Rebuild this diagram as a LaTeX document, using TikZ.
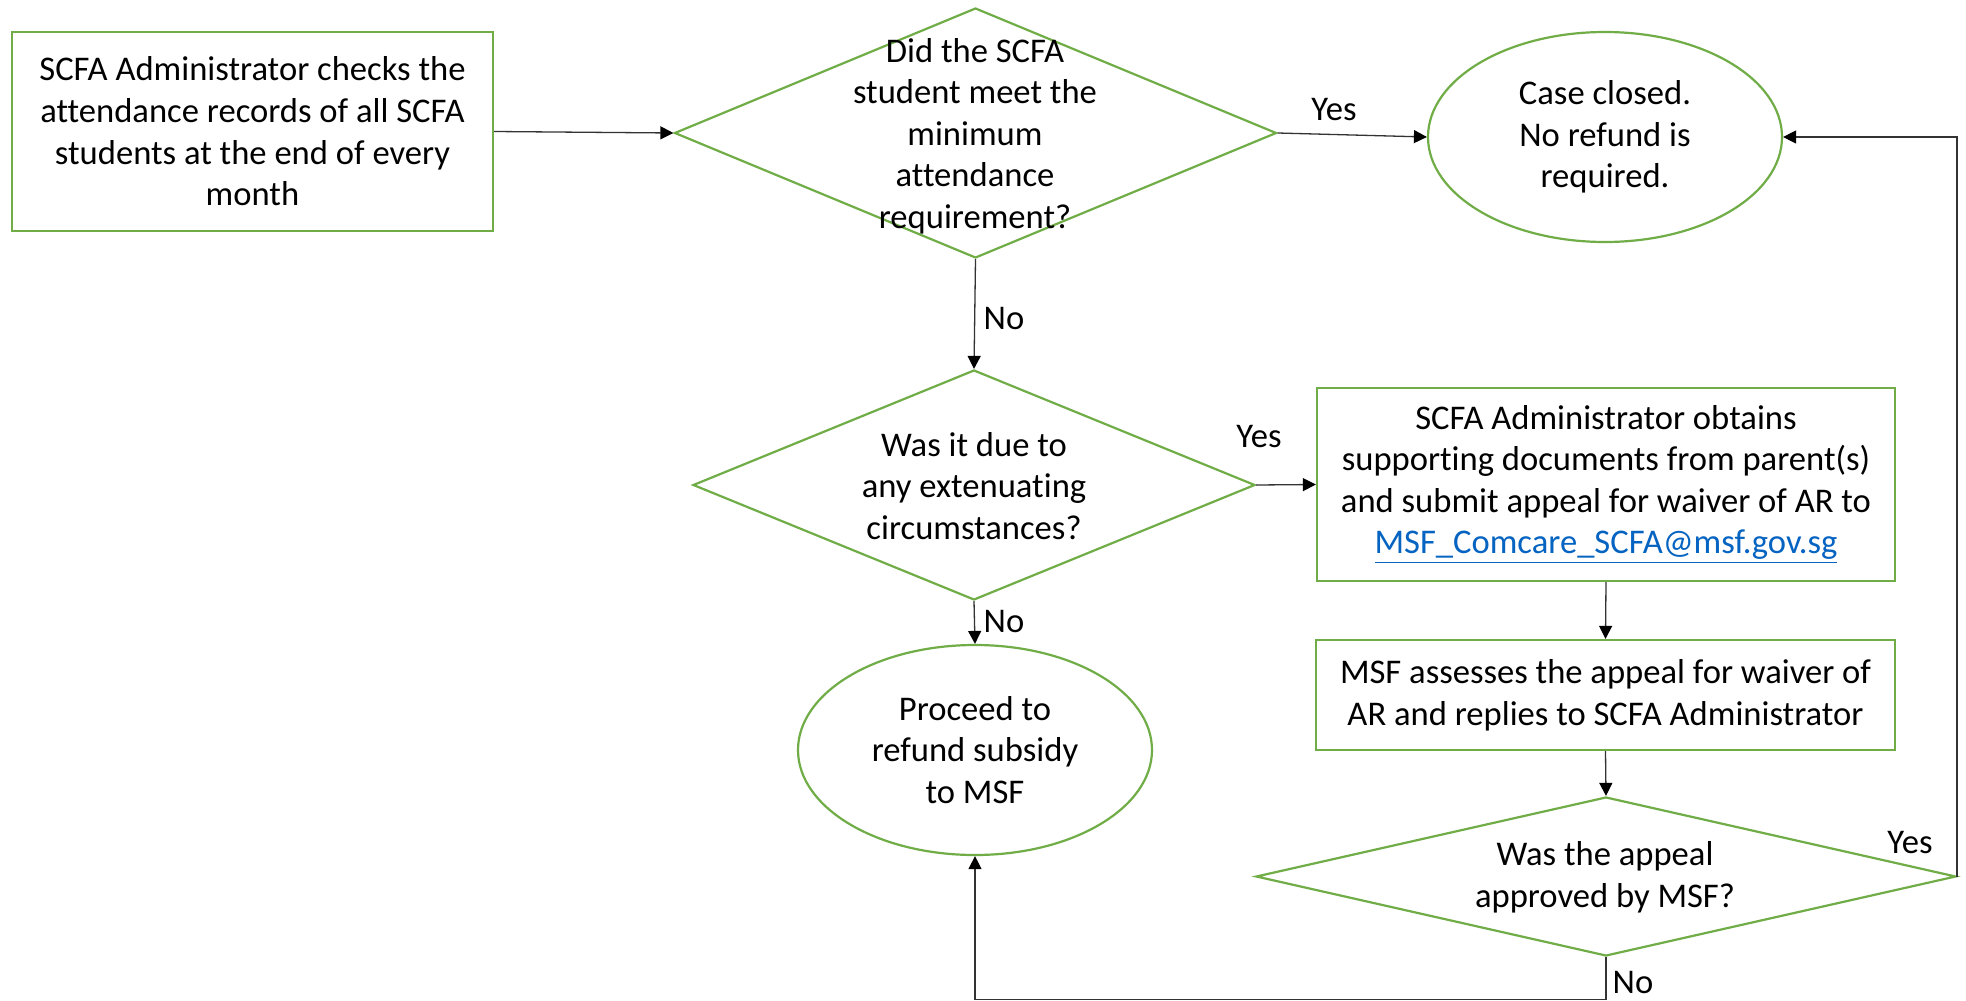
\documentclass[tikz,border=0pt]{standalone}
\usepackage{fontspec}
\setmainfont{Carlito}[Ligatures=NoCommon]
\usetikzlibrary{shapes.geometric,arrows.meta}
\definecolor{grn}{HTML}{70AD47}
\definecolor{lnk}{HTML}{0563C1}
\definecolor{conn}{HTML}{333333}
\newcommand{\fsz}{\fontsize{17.3}{20.8}\selectfont}
\begin{document}
\begin{tikzpicture}[x=0.5pt,y=-0.5pt,
  shp/.style={draw=grn,line width=1.1pt,inner sep=0pt,align=center,font=\fsz},
  procbox/.style={shp,rectangle},
  termel/.style={shp,ellipse},
  decdia/.style={shp,diamond},
  dtext/.style={align=center,font=\fsz,inner sep=0pt},
  lbl/.style={font=\fsz,anchor=base,inner sep=0pt},
  arr/.style={draw=conn,line width=0.65pt,-{Triangle[length=6.5pt,width=6.5pt,color=black]}}
]
\fill[white] (0,0) rectangle (1966,1001);
\useasboundingbox (0,0) rectangle (1966,1001);

\node[procbox,minimum width=240.5pt,minimum height=99.5pt] (b1) at (252.5,131.5)
  {SCFA Administrator checks the\\attendance records of all SCFA\\students at the end of every\\month};

\node[decdia,minimum width=301pt,minimum height=125pt] (d1) at (975.5,133) {};
\node[dtext] (d1t) at (975,136) {Did the SCFA\\student meet the\\minimum\\attendance\\requirement?};

\node[termel,minimum width=177pt,minimum height=105pt] (e1) at (1605,137)
  {Case closed.\\No refund is\\required.};

\node[decdia,minimum width=281pt,minimum height=115pt] (d2) at (974,485) {};
\node[dtext] (d2t) at (974,486) {Was it due to\\any extenuating\\circumstances?};

\node[procbox,minimum width=289pt,minimum height=96.5pt] (b2) at (1606,484.5)
  {SCFA Administrator obtains\\supporting documents from parent(s)\\and submit appeal for waiver of AR to\\{\color{lnk}\underline{MSF\_Comcare\_SCFA@msf.gov.sg}}};

\node[procbox,minimum width=289.5pt,minimum height=55pt] (b3) at (1605.5,695)
  {MSF assesses the appeal for waiver of\\AR and replies to SCFA Administrator};

\node[decdia,minimum width=350pt,minimum height=79.5pt] (d3) at (1606,876.5) {};
\node[dtext] (d3t) at (1605,877) {Was the appeal\\approved by MSF?};

\node[termel,minimum width=177pt,minimum height=105pt] (e2) at (975,750)
  {Proceed to\\refund subsidy\\to MSF};

\node[lbl] (y1) at (1334,120) {Yes};
\node[lbl] (n1) at (1004,329) {No};
\node[lbl] (y2) at (1259,447) {Yes};
\node[lbl] (n2) at (1004,632) {No};
\node[lbl] (y3) at (1910,853) {Yes};
\node[lbl] (n3) at (1633,993) {No};

\draw[arr] (b1.east) -- (d1.west);
\draw[arr] (d1.east) -- (e1.west);
\draw[arr] (d1.south) -- (d2.north);
\draw[arr] (d2.east) -- (b2.west);
\draw[arr] (d2.south) -- (e2.north);
\draw[arr] (b2.south) -- (b3.north);
\draw[arr] (b3.south) -- (d3.north);
\draw[arr] (d3.east) |- (e1.east);
\coordinate (bot) at (1606,999.5);
\draw[arr] (d3.south) -- (bot) -| (e2.south);
\end{tikzpicture}
\end{document}
